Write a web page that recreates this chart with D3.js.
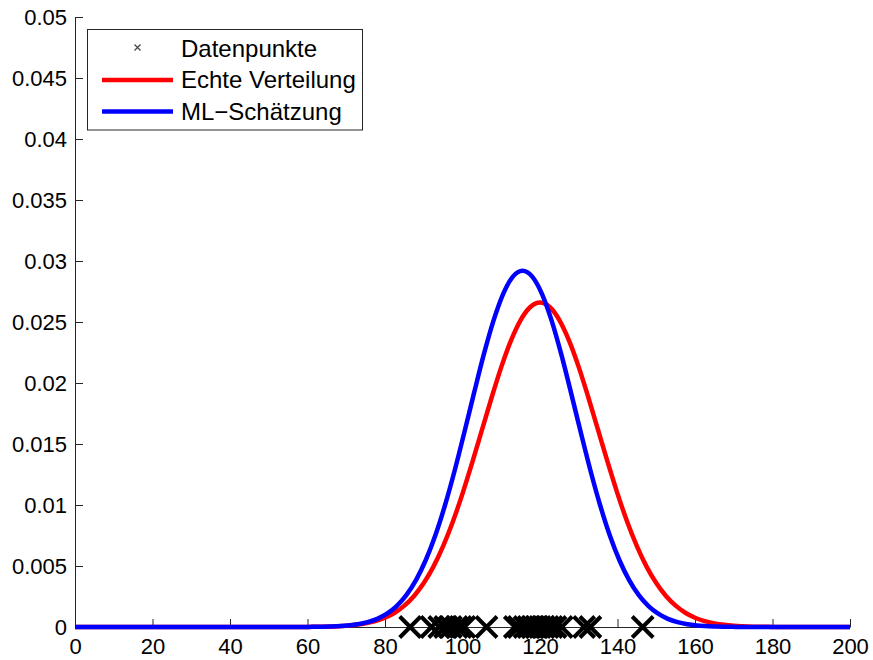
<!DOCTYPE html>
<html>
<head>
<meta charset="utf-8">
<script src="https://cdn.jsdelivr.net/npm/d3@7"></script>
<style>
  html, body { margin: 0; padding: 0; background: #ffffff; }
  svg { display: block; }
  text { font-family: "Liberation Sans", Arial, sans-serif; }
</style>
</head>
<body>
<svg id="chart" width="873" height="660"></svg>
<script>
// ---- data ----
const dataPoints = [86.5, 92, 94, 95.5, 97, 98.5, 99.5, 100.5, 106.2, 113.5, 114.5, 116, 117, 118, 119, 120, 121, 122, 123, 124, 125.6, 131.4, 133, 146.5];

const trueX = [0, 55, 60, 65, 70, 72.5, 75, 77.5, 80, 82.5, 85, 87.5, 90, 92.5, 95, 97.5, 100, 102.5, 105, 107.5, 110, 112.5, 115, 117.5, 120, 122.5, 125, 127.5, 130, 132.5, 135, 137.5, 140, 142.5, 145, 147.5, 150, 152.5, 155, 157.5, 160, 162.5, 165, 167.5, 170, 175, 180, 185, 200];
const trueY = [0, 0, 0.00001, 0.00003, 0.00010, 0.00018, 0.00030, 0.00048, 0.00076, 0.00117, 0.00175, 0.00254, 0.00360, 0.00495, 0.00663, 0.00863, 0.01093, 0.01347, 0.01613, 0.01879, 0.02130, 0.02347, 0.02516, 0.02623, 0.02660, 0.02623, 0.02516, 0.02347, 0.02130, 0.01879, 0.01613, 0.01347, 0.01093, 0.00863, 0.00663, 0.00495, 0.00360, 0.00254, 0.00175, 0.00117, 0.00076, 0.00048, 0.00030, 0.00018, 0.00010, 0.00003, 0.00001, 0, 0];

const mlX = [0, 50.5, 55.5, 60.5, 65.5, 70.5, 73, 75.5, 78, 80.5, 83, 85.5, 88, 90.5, 93, 95.5, 98, 100.5, 103, 105.5, 108, 110.5, 113, 115.5, 118, 120.5, 123, 125.5, 128, 130.5, 133, 135.5, 138, 140.5, 143, 145.5, 148, 150.5, 153, 155.5, 158, 160.5, 165.5, 170.5, 175.5, 200];
const mlY = [0, 0, 0, 0.00001, 0.00004, 0.00013, 0.00023, 0.00040, 0.00067, 0.00110, 0.00172, 0.00262, 0.00385, 0.00547, 0.00752, 0.01000, 0.01285, 0.01598, 0.01921, 0.02234, 0.02511, 0.02731, 0.02872, 0.02920, 0.02872, 0.02731, 0.02511, 0.02234, 0.01921, 0.01598, 0.01285, 0.01000, 0.00752, 0.00547, 0.00385, 0.00262, 0.00172, 0.00110, 0.00067, 0.00040, 0.00023, 0.00013, 0.00004, 0.00001, 0, 0];

const xTicks = [0, 20, 40, 60, 80, 100, 120, 140, 160, 180, 200];
const yTicks = [0, 0.005, 0.01, 0.015, 0.02, 0.025, 0.03, 0.035, 0.04, 0.045, 0.05];
const yTickLabels = ["0", "0.005", "0.01", "0.015", "0.02", "0.025", "0.03", "0.035", "0.04", "0.045", "0.05"];
const legendLabels = ["Datenpunkte", "Echte Verteilung", "ML\u2212Sch\u00e4tzung"];

(function () {
// ---- layout ----
const svg = d3.select("#chart");
const mLeft = 75, mRight = 850, mTop = 17, mBottom = 627;
const x = d3.scaleLinear().domain([0, 200]).range([mLeft, mRight]);
const y = d3.scaleLinear().domain([0, 0.05]).range([mBottom, mTop]);
const fontSize = 22;

// axes (ticks pointing inward, MATLAB style)
const xAxis = d3.axisBottom(x).tickValues(xTicks).tickSizeInner(-8).tickSizeOuter(0).tickPadding(11);
const yAxis = d3.axisLeft(y).tickValues(yTicks).tickSizeInner(-8).tickSizeOuter(0).tickPadding(8)
  .tickFormat((d, i) => yTickLabels[i]);

const gx = svg.append("g").attr("transform", `translate(0,${mBottom})`).call(xAxis);
const gy = svg.append("g").attr("transform", `translate(${mLeft},0)`).call(yAxis);
[gx, gy].forEach(g => {
  g.select(".domain").attr("stroke", "#262626").attr("stroke-width", 1);
  g.selectAll(".tick line").attr("stroke", "#262626").attr("stroke-width", 1);
  g.selectAll(".tick text").attr("fill", "#000").style("font-size", fontSize + "px")
    .style("font-family", "'Liberation Sans', Arial, sans-serif");
});

// curves
const line = d3.line().curve(d3.curveMonotoneX);
svg.append("path")
  .attr("d", line(trueX.map((v, i) => [x(v), y(trueY[i])])))
  .attr("fill", "none").attr("stroke", "#ff0000").attr("stroke-width", 4.5)
  .attr("stroke-linejoin", "round");
svg.append("path")
  .attr("d", line(mlX.map((v, i) => [x(v), y(mlY[i])])))
  .attr("fill", "none").attr("stroke", "#0000ff").attr("stroke-width", 4.5)
  .attr("stroke-linejoin", "round");

// data point crosses
const cs = 10.5;
const cross = svg.append("g");
dataPoints.forEach(d => {
  const cx = x(d), cy = y(0);
  cross.append("path")
    .attr("d", `M${cx - cs},${cy - cs}L${cx + cs},${cy + cs}M${cx - cs},${cy + cs}L${cx + cs},${cy - cs}`)
    .attr("stroke", "#000").attr("stroke-width", 4).attr("fill", "none");
});

// legend
const lg = svg.append("g");
lg.append("rect").attr("x", 87.5).attr("y", 29.5).attr("width", 275).attr("height", 100.5)
  .attr("fill", "#fff").attr("stroke", "#262626").attr("stroke-width", 1);
const rowY = [48.5, 80, 111.5];
const mx = 137.5, my = rowY[0] - 1, ms = 3;
lg.append("path")
  .attr("d", `M${mx - ms},${my - ms}L${mx + ms},${my + ms}M${mx - ms},${my + ms}L${mx + ms},${my - ms}`)
  .attr("stroke", "#444").attr("stroke-width", 1.2);
lg.append("line").attr("x1", 102).attr("x2", 173).attr("y1", rowY[1]).attr("y2", rowY[1])
  .attr("stroke", "#ff0000").attr("stroke-width", 4.5);
lg.append("line").attr("x1", 102).attr("x2", 173).attr("y1", rowY[2]).attr("y2", rowY[2])
  .attr("stroke", "#0000ff").attr("stroke-width", 4.5);
legendLabels.forEach((t, i) => {
  lg.append("text").attr("x", 181).attr("y", rowY[i]).attr("dy", "0.35em")
    .style("font-size", "24px").attr("fill", "#000").text(t);
});
})();
</script>
</body>
</html>
